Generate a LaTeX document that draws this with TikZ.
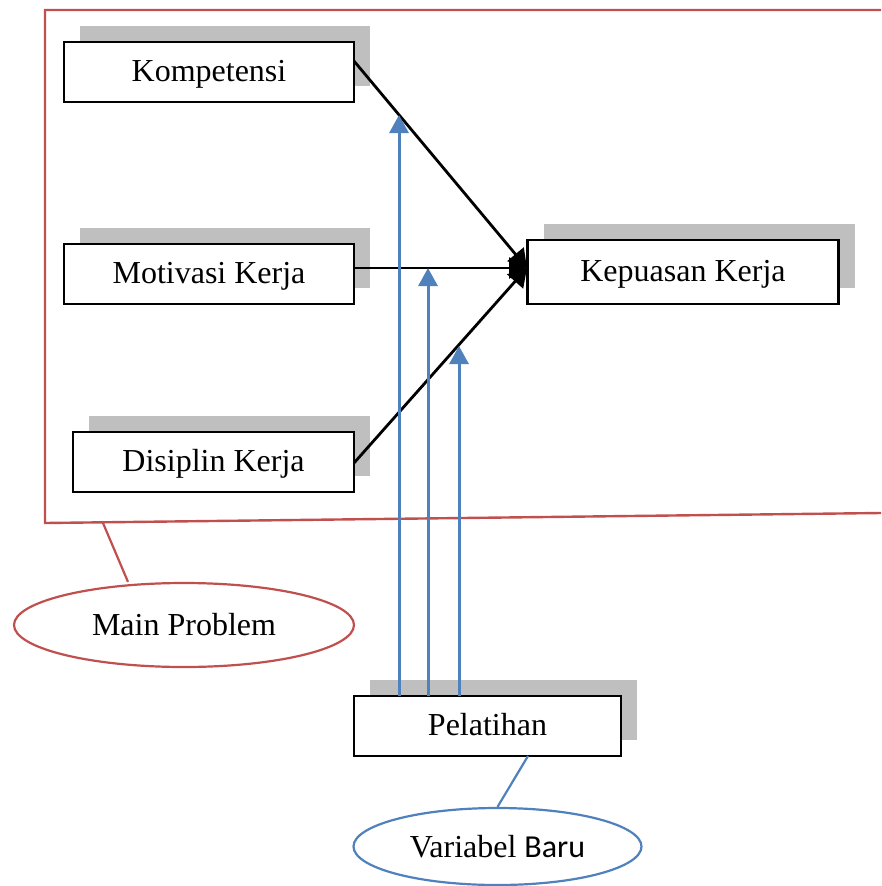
\documentclass[tikz,border=0pt]{standalone}
\usepackage{fontspec}
\setmainfont{Liberation Serif}
\newfontfamily\calib{Carlito}
\usetikzlibrary{arrows.meta,shadows,calc,shapes.geometric}
\definecolor{shadowgray}{HTML}{BFBFBF}
\definecolor{wordblue}{HTML}{4F81BD}
\definecolor{wordred}{HTML}{C0504D}
\tikzset{
  varbox/.style={draw=black, fill=white, line width=2.5pt, inner sep=0pt,
    minimum height=60pt, font=\fontsize{32}{38}\selectfont,
    text height=22pt, text depth=4pt,
    drop shadow={shadow xshift=16pt, shadow yshift=16pt, fill=shadowgray, opacity=1}},
  blk/.style={draw=black, line width=2.8pt, -{Triangle[width=21pt,length=18pt]}},
  blu/.style={draw=wordblue, line width=3pt, -{Triangle[width=19pt,length=18pt]}},
  callout/.style={draw, line width=2.2pt, ellipse, inner sep=0pt, fill=white,
    font=\fontsize{32}{38}\selectfont}
}
\begin{document}
\begin{tikzpicture}[x=1pt,y=-1pt]
\useasboundingbox (0,0) rectangle (881,886);
% main problem frame
\draw[wordred, line width=2.4pt] (881,10) -- (45,10) -- (45,523) -- (881,513);
% boxes
\node[varbox, minimum width=290pt] (k) at (209,72) {Kompetensi};
\node[varbox, minimum width=290pt] (m) at (209,274) {Motivasi Kerja};
\node[varbox, minimum width=281pt] (d) at (213.5,462) {Disiplin Kerja};
\node[varbox, minimum width=311pt, minimum height=64pt] (kp) at (683,272) {Kepuasan Kerja};
\node[varbox, minimum width=267pt] (p) at (487.5,726) {Pelatihan};
% black arrows
\coordinate (ks) at (354,61);
\coordinate (ms) at (354,268);
\coordinate (ds) at (354,463);
\coordinate (kt) at (527,268);
\draw[blk] (ks) -- (kt);
\draw[blk] (ms) -- (kt);
\draw[blk] (ds) -- (kt);
% blue arrows
\coordinate (b1) at (399,696);
\coordinate (b2) at (428,696);
\coordinate (b3) at (459,696);
\coordinate (t1) at (399,115);
\coordinate (t2) at (428,268);
\coordinate (t3) at (459,346);
\draw[blu] (b1) -- (t1);
\draw[blu] (b2) -- (t2);
\draw[blu] (b3) -- (t3);
% callouts
\node[callout, draw=wordred, minimum width=340pt, minimum height=84pt] (mp) at (184,625) {Main Problem};
\coordinate (mpa) at (103,523);
\draw[wordred, line width=2.2pt] (mpa) -- (mp.north -| 128,0);
\node[callout, draw=wordblue, minimum width=288pt, minimum height=77pt] (vb) at (497.5,846.5) {Variabel {\calib Baru}};
\coordinate (pa) at (528,756);
\draw[wordblue, line width=2.2pt] (pa) -- (vb.north);
\end{tikzpicture}
\end{document}
